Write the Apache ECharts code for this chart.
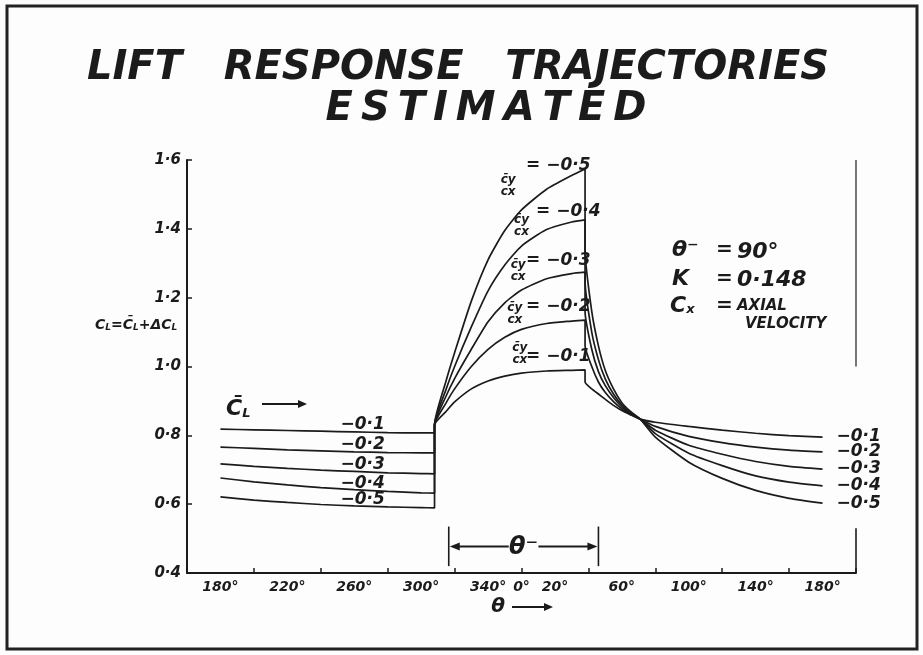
<!DOCTYPE html>
<html>
<head>
<meta charset="utf-8">
<script src="https://cdn.jsdelivr.net/npm/echarts@6/dist/echarts.min.js"></script>
<style>
  html, body { margin: 0; padding: 0; background: #fdfdfd; }
  #chart { width: 923px; height: 655px; }
</style>
</head>
<body>
<div id="chart"></div>
<script>
// ---- data: lift coefficient C_L against blade angle theta (deg, 180..540 = 180°→360°/0°→180°)
const curveNames = ['−0·1', '−0·2', '−0·3', '−0·4', '−0·5'];

// upstream of the gust sector (theta 180° .. 308°)
const approach01 = [[180,0.818],[200,0.816],[220,0.814],[240,0.812],[260,0.810],[280,0.808],[300,0.807],[308,0.807]];
const approach02 = [[180,0.766],[200,0.762],[220,0.758],[240,0.755],[260,0.752],[280,0.750],[300,0.749],[308,0.749]];
const approach03 = [[180,0.717],[200,0.710],[220,0.704],[240,0.699],[260,0.695],[280,0.691],[300,0.689],[308,0.688]];
const approach04 = [[180,0.676],[200,0.665],[220,0.656],[240,0.648],[260,0.642],[280,0.637],[300,0.633],[308,0.632]];
const approach05 = [[180,0.621],[200,0.612],[220,0.605],[240,0.599],[260,0.595],[280,0.592],[300,0.590],[308,0.589]];

// inside the gust sector theta⁻ (308° .. 398°)
const gust01 = [[308,0.83],[315,0.870],[320,0.897],[330,0.935],[340,0.958],[350,0.972],[360,0.981],[375,0.987],[390,0.989],[398,0.990]];
const gust02 = [[308,0.83],[315,0.895],[320,0.935],[330,1.000],[340,1.050],[350,1.085],[360,1.108],[375,1.125],[390,1.132],[398,1.135]];
const gust03 = [[308,0.83],[315,0.915],[320,0.965],[330,1.050],[340,1.130],[350,1.185],[360,1.222],[375,1.255],[390,1.270],[398,1.274]];
const gust04 = [[308,0.83],[315,0.935],[320,1.000],[330,1.115],[340,1.220],[350,1.295],[360,1.350],[375,1.398],[390,1.420],[398,1.426]];
const gust05 = [[308,0.83],[315,0.960],[320,1.040],[330,1.190],[340,1.310],[350,1.395],[360,1.455],[375,1.515],[390,1.555],[398,1.574]];

// recovery after leaving the sector (398° .. 540°)
const recovery01 = [[398,0.955],[402,0.935],[406,0.920],[410,0.905],[415,0.887],[420,0.872],[425,0.860],[431,0.847],[440,0.838],[460,0.826],[480,0.815],[500,0.806],[520,0.799],[540,0.795]];
const recovery02 = [[398,1.060],[402,1.000],[406,0.955],[410,0.925],[415,0.898],[420,0.877],[425,0.862],[431,0.847],[440,0.826],[460,0.797],[480,0.779],[500,0.766],[520,0.757],[540,0.752]];
const recovery03 = [[398,1.160],[402,1.050],[406,0.985],[410,0.945],[415,0.910],[420,0.883],[425,0.864],[431,0.847],[440,0.815],[460,0.771],[480,0.745],[500,0.724],[520,0.710],[540,0.702]];
const recovery04 = [[398,1.250],[402,1.100],[406,1.020],[410,0.965],[415,0.920],[420,0.888],[425,0.866],[431,0.847],[440,0.805],[460,0.748],[480,0.712],[500,0.682],[520,0.664],[540,0.653]];
const recovery05 = [[398,1.340],[402,1.160],[406,1.060],[410,0.990],[415,0.935],[420,0.895],[425,0.870],[431,0.847],[440,0.795],[460,0.722],[480,0.675],[500,0.640],[520,0.617],[540,0.603]];

// x tick labels keyed by axis value
const thetaLabels = {180:'180°',220:'220°',260:'260°',300:'300°',340:'340°',360:'0°',380:'20°',420:'60°',460:'100°',500:'140°',540:'180°'};

// ---- drawing
const INK = '#1b1b1b';
const FAM = '"DejaVu Sans", "Liberation Sans", sans-serif';
const hand = (size) => ({ fontFamily: FAM, fontStyle: 'italic', fontWeight: 'bold', fontSize: size, color: INK });

const approaches = [approach01, approach02, approach03, approach04, approach05];
const gusts = [gust01, gust02, gust03, gust04, gust05];
const recoveries = [recovery01, recovery02, recovery03, recovery04, recovery05];

// label anchors (theta, C_L) for the in-plot annotations of each curve
const leftTagAt  = [[265,0.832],[265,0.772],[265,0.714],[265,0.661],[265,0.612]];
const fracAt     = [[359,1.036],[356,1.152],[358,1.278],[360,1.408],[352,1.525]];
const ratioTagAt = [[382,1.028],[382,1.173],[382,1.309],[388,1.449],[382,1.585]];

function invisiblePoint(coord, label) {
  return { coord, symbol: 'rect', symbolSize: 1, itemStyle: { color: 'transparent' }, label };
}

const series = curveNames.map((name, i) => ({
  type: 'line',
  name,
  xAxisIndex: 0,
  yAxisIndex: 0,
  data: approaches[i].concat(gusts[i], recoveries[i]),
  symbol: 'none',
  smooth: 0.2,
  lineStyle: { color: INK, width: 1.7 },
  silent: true,
  endLabel: {
    show: true,
    formatter: name,
    offset: [6, 0],
    ...hand(17)
  },
  markPoint: {
    silent: true,
    data: [
      invisiblePoint(leftTagAt[i], { show: true, position: 'inside', formatter: name, ...hand(17) }),
      invisiblePoint(fracAt[i], {
        show: true, position: 'inside',
        formatter: '{n|c̄y}\n{d|cx}',
        rich: {
          n: { ...hand(12), lineHeight: 12 },
          d: { ...hand(12), lineHeight: 12 }
        }
      }),
      invisiblePoint(ratioTagAt[i], { show: true, position: 'inside', formatter: '= ' + name, ...hand(17) })
    ]
  }
}));

const option = {
  animation: false,
  backgroundColor: '#fdfdfd',
  grid: { left: 187, right: 67, top: 160, bottom: 82, containLabel: false },
  xAxis: [
    {
      type: 'value', min: 160, max: 560, interval: 40, position: 'bottom',
      axisLine: { show: true, lineStyle: { color: INK, width: 2 } },
      axisTick: { show: true, inside: true, length: 5, lineStyle: { color: INK, width: 1.5 } },
      axisLabel: { show: false },
      splitLine: { show: false }
    },
    {
      type: 'value', min: 160, max: 560, interval: 20, position: 'bottom',
      axisLine: { show: false }, axisTick: { show: false }, splitLine: { show: false },
      axisLabel: { show: true, margin: 7, formatter: v => thetaLabels[v] || '', ...hand(14) }
    }
  ],
  yAxis: {
    type: 'value', min: 0.4, max: 1.6, interval: 0.2,
    axisLine: { show: true, lineStyle: { color: INK, width: 2 } },
    axisTick: { show: true, inside: true, length: 5, lineStyle: { color: INK, width: 1.5 } },
    axisLabel: { margin: 6, formatter: v => v.toFixed(1).replace('.', '·'), ...hand(15) },
    splitLine: { show: false }
  },
  series
};

const chart = echarts.init(document.getElementById('chart'), null, { renderer: 'canvas' });
chart.setOption(option);

const px = (t, v) => chart.convertToPixel({ xAxisIndex: 0, yAxisIndex: 0 }, [t, v]);
const txt = (text, x, y, size, align, extra) => ({
  type: 'text', silent: true,
  style: Object.assign({
    text, x, y, fill: INK, align: align || 'left', verticalAlign: 'middle',
    font: 'italic bold ' + size + 'px ' + FAM
  }, extra || {})
});
const seg = (x1, y1, x2, y2, w) => ({
  type: 'line', silent: true,
  shape: { x1, y1, x2, y2 },
  style: { stroke: INK, lineWidth: w || 1.6 }
});
const head = (x, y, dir, len, half) => ({
  type: 'polygon', silent: true,
  shape: { points: [[x, y], [x - dir * len, y - half], [x - dir * len, y + half]] },
  style: { fill: INK }
});

// gust sector span theta⁻
const spanL = px(316.5, 0.477), spanR = px(406, 0.477);
const barTop = px(316.5, 0.535)[1], barBot = px(316.5, 0.42)[1];
// right-hand frame of the plot
const rTop = px(560, 1.6), rMid = px(560, 1.0), rLow = px(560, 0.53), rBot = px(560, 0.4);

const subRich = {
  s: { fontFamily: FAM, fontStyle: 'italic', fontWeight: 'bold', fontSize: 9, fill: INK, padding: [6, 0, 0, 0] },
  m: { fontFamily: FAM, fontStyle: 'italic', fontWeight: 'bold', fontSize: 14, fill: INK }
};

chart.setOption({
  graphic: [
    { type: 'rect', silent: true, shape: { x: 7, y: 6, width: 910, height: 643 }, style: { fill: 'none', stroke: '#222', lineWidth: 3 } },

    txt('LIFT   RESPONSE   TRAJECTORIES', 458, 69, 40, 'center'),
    txt('E\u2009S\u2009T\u2009I\u2009M\u2009A\u2009T\u2009E\u2009D', 486, 110, 40, 'center'),

    { type: 'text', silent: true, style: { text: '{m|C}{s|L}{m|=C̄}{s|L}{m|+ΔC}{s|L}', x: 95, y: 325, verticalAlign: 'middle', rich: subRich } },

    { type: 'text', silent: true, style: {
        text: '{m|C̄}{s|L}', x: 226, y: 409, verticalAlign: 'middle',
        rich: {
          m: { fontFamily: FAM, fontStyle: 'italic', fontWeight: 'bold', fontSize: 22, fill: INK },
          s: { fontFamily: FAM, fontStyle: 'italic', fontWeight: 'bold', fontSize: 13, fill: INK, padding: [10, 0, 0, 0] }
        } } },
    seg(262, 404, 300, 404, 2), head(307, 404, 1, 9, 4),

    txt('θ⁻', 672, 250, 22), txt('=', 716, 250, 20), txt('90°', 737, 252, 22),
    txt('K', 672, 279, 22), txt('=', 716, 279, 20), txt('0·148', 737, 280, 22),
    { type: 'text', silent: true, style: { text: '{m|C}{s|x}', x: 670, y: 306, verticalAlign: 'middle',
        rich: {
          m: { fontFamily: FAM, fontStyle: 'italic', fontWeight: 'bold', fontSize: 22, fill: INK },
          s: { fontFamily: FAM, fontStyle: 'italic', fontWeight: 'bold', fontSize: 13, fill: INK, padding: [8, 0, 0, 0] }
        } } },
    txt('=', 716, 306, 20), txt('AXIAL', 737, 306, 15),
    txt('VELOCITY', 745, 324, 15),

    seg(spanL[0], barTop, spanL[0], barBot, 1.6),
    seg(spanR[0], barTop, spanR[0], barBot, 1.6),
    seg(spanL[0] + 8, spanL[1], spanL[0] + 60, spanL[1], 1.8),
    seg(spanR[0] - 60, spanR[1], spanR[0] - 8, spanR[1], 1.8),
    head(spanL[0] + 1, spanL[1], -1, 10, 4),
    head(spanR[0] - 1, spanR[1], 1, 10, 4),
    txt('θ⁻', (spanL[0] + spanR[0]) / 2, spanL[1] + 1, 24, 'center'),

    txt('θ', 498, 607, 20, 'center'),
    seg(512, 607, 546, 607, 2), head(553, 607, 1, 9, 4),

    seg(rTop[0], rTop[1], rMid[0], rMid[1], 1.2),
    seg(rLow[0], rLow[1], rBot[0], rBot[1], 1.6)
  ]
});
</script>
</body>
</html>
